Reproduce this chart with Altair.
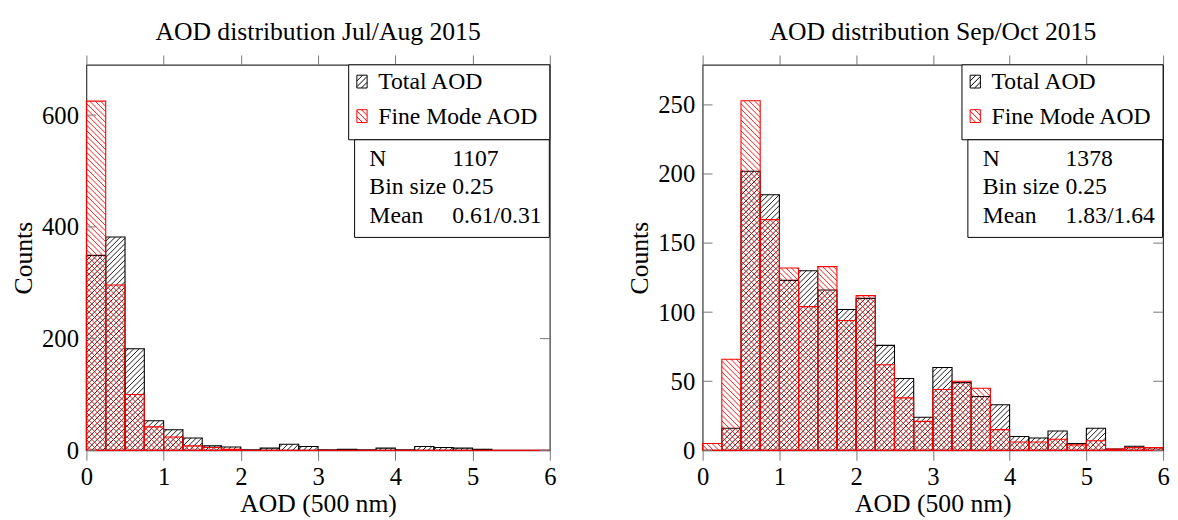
import altair as alt
import pandas as pd

# ---------------- data ----------------
bin_start = [0.0, 0.25, 0.5, 0.75, 1.0, 1.25, 1.5, 1.75, 2.0, 2.25, 2.5, 2.75,
             3.0, 3.25, 3.5, 3.75, 4.0, 4.25, 4.5, 4.75, 5.0, 5.25, 5.5, 5.75]
bin_size = 0.25

jul_total = [349, 382, 182, 53, 37, 22, 8, 6, 1, 4, 11, 7,
             1, 2, 1, 4, 1, 7, 5, 4, 2, 0, 0, 0]
jul_fine = [625, 296, 100, 42, 24, 8, 5, 2, 0, 0, 0, 0,
            0, 0, 0, 0, 0, 0, 0, 0, 0, 0, 0, 0]
sep_total = [0, 16, 202, 185, 123, 130, 116, 102, 110, 76, 52, 24,
             60, 49, 39, 33, 10, 9, 14, 5, 16, 1, 3, 2]
sep_fine = [5, 66, 253, 167, 132, 104, 133, 94, 112, 62, 38, 21,
            44, 50, 45, 15, 6, 6, 8, 4, 7, 1, 2, 2]

series_names = ["Total AOD", "Fine Mode AOD"]
series_colors = ["black", "red"]

panel_titles = ["AOD distribution Jul/Aug 2015", "AOD distribution Sep/Oct 2015"]
stat_labels = ["N", "Bin size", "Mean"]
jul_stats = ["1107", "0.25", "0.61/0.31"]
sep_stats = ["1378", "0.25", "1.83/1.64"]

x_ticks = [0, 1, 2, 3, 4, 5, 6]
jul_yticks = [0, 200, 400, 600]
sep_yticks = [0, 50, 100, 150, 200, 250]
jul_ymax = 690
sep_ymax = 279

FONT = "Liberation Serif"
TICK_COLOR = "#777777"
HATCH = 5.5  # hatch spacing in px

# swatch paths (unit square), "/" for total, "\" for fine
PATH_FWD = ("M-0.8,-1L0.8,-1L0.8,1L-0.8,1Z"
            "M-0.8,-0.1L0.1,-1M-0.8,0.8L0.8,-0.8M-0.1,1L0.8,0.1")
PATH_BWD = ("M-0.8,-1L0.8,-1L0.8,1L-0.8,1Z"
            "M-0.8,-0.8L0.8,0.8M-0.1,-1L0.8,-0.1M-0.8,0.1L0.1,1")


def panel(total, fine, title, stats, yticks, ymax, W, H):
    n = len(bin_start)
    df = pd.DataFrame({
        "start": bin_start + bin_start,
        "end": [b + bin_size for b in bin_start] * 2,
        "count": total + fine,
        "series": [series_names[0]] * n + [series_names[1]] * n,
    })
    sx = W / 6.0
    sy = H / float(ymax)
    d = HATCH
    xsc = alt.Scale(domain=[0, 6], nice=False, zero=False)
    ysc = alt.Scale(domain=[0, ymax], nice=False, zero=False)
    base = alt.Chart(df)

    def hatch(series, color, forward):
        c = (base.transform_filter(alt.datum.series == series)
             .transform_calculate(X0=f"datum.start*{sx}")
             .transform_calculate(X1=f"datum.end*{sx}")
             .transform_calculate(H=f"datum.count*{sy}"))
        if forward:
            c = c.transform_calculate(
                ks=f"sequence(floor((datum.X0-datum.H)/{d}), ceil(datum.X1/{d})+1)")
        else:
            c = c.transform_calculate(
                ks=f"sequence(floor(datum.X0/{d}), ceil((datum.X1+datum.H)/{d})+1)")
        c = c.transform_flatten(["ks"]).transform_calculate(c=f"datum.ks*{d}")
        if forward:
            c = (c.transform_calculate(Xs="max(datum.X0, datum.c)")
                 .transform_calculate(Xe="min(datum.X1, datum.c+datum.H)")
                 .transform_calculate(Ys="datum.Xs-datum.c")
                 .transform_calculate(Ye="datum.Xe-datum.c"))
        else:
            c = (c.transform_calculate(Xs="max(datum.X0, datum.c-datum.H)")
                 .transform_calculate(Xe="min(datum.X1, datum.c)")
                 .transform_calculate(Ys="datum.c-datum.Xs")
                 .transform_calculate(Ye="datum.c-datum.Xe"))
        c = (c.transform_filter("datum.Xe - datum.Xs > 0.05")
             .transform_calculate(xs=f"datum.Xs/{sx}")
             .transform_calculate(xe=f"datum.Xe/{sx}")
             .transform_calculate(ys=f"datum.Ys/{sy}")
             .transform_calculate(ye=f"datum.Ye/{sy}"))
        return c.mark_rule(color=color, strokeWidth=0.9).encode(
            x=alt.X("xs:Q", scale=xsc, axis=None),
            x2="xe:Q",
            y=alt.Y("ys:Q", scale=ysc, axis=None),
            y2="ye:Q",
        )

    bottom_axis = alt.Axis(values=x_ticks, orient="bottom", title="AOD (500 nm)",
                           tickSize=10, grid=False, domain=False, labelFlush=False,
                           labelPadding=4.5, titlePadding=2, format="d")
    top_axis = alt.Axis(values=x_ticks, orient="top", title=None, labels=False,
                        tickSize=10, grid=False, domain=False)
    left_axis = alt.Axis(values=yticks, orient="left", title="Counts", ticks=False,
                         grid=False, domain=False, labelFlush=False,
                         labelPadding=8, titlePadding=5)

    def outline(series, color, xaxis, yaxis):
        return (base.transform_filter(alt.datum.series == series)
                .transform_calculate(zero="0")
                .mark_rect(fill="transparent", stroke=color, strokeWidth=1.1)
                .encode(
                    x=alt.X("start:Q", scale=xsc, axis=xaxis),
                    x2="end:Q",
                    y=alt.Y("count:Q", scale=ysc, axis=yaxis),
                    y2="zero:Q",
                ))

    total_hatch = hatch(series_names[0], series_colors[0], True)
    total_out = outline(series_names[0], series_colors[0], bottom_axis, left_axis)
    fine_hatch = hatch(series_names[1], series_colors[1], False)
    fine_out = outline(series_names[1], series_colors[1], top_axis, None)

    tick_df = pd.DataFrame({"v": yticks})
    ytick_left = alt.Chart(tick_df).mark_rule(color=TICK_COLOR, strokeWidth=1).encode(
        y=alt.Y("v:Q", scale=ysc, axis=None), x=alt.value(0), x2=alt.value(10))
    ytick_right = alt.Chart(tick_df).mark_rule(color=TICK_COLOR, strokeWidth=1).encode(
        y=alt.Y("v:Q", scale=ysc, axis=None), x=alt.value(W - 10), x2=alt.value(W))

    one = pd.DataFrame({"k": [0]})
    leg_frame = alt.Chart(one).mark_rect(fill="white", stroke="black", strokeWidth=1).encode(
        x=alt.value(W - 204), x2=alt.value(W), y=alt.value(0), y2=alt.value(76))
    stat_frame = alt.Chart(one).mark_rect(fill="white", stroke="black", strokeWidth=1).encode(
        x=alt.value(W - 198), x2=alt.value(W - 0.5), y=alt.value(76), y2=alt.value(175))
    sw1 = alt.Chart(one).mark_point(shape=PATH_FWD, size=169, filled=False,
                                    stroke=series_colors[0], strokeWidth=1, opacity=1).encode(
        x=alt.value(W - 190.5), y=alt.value(17))
    sw2 = alt.Chart(one).mark_point(shape=PATH_BWD, size=169, filled=False,
                                    stroke=series_colors[1], strokeWidth=1, opacity=1).encode(
        x=alt.value(W - 190.5), y=alt.value(52))
    leg_text = alt.Chart(one).mark_text(align="left", baseline="alphabetic", font=FONT,
                                        fontSize=24, lineHeight=36, color="black").encode(
        x=alt.value(W - 174), y=alt.value(24), text=alt.value(series_names))
    stat_lab = alt.Chart(one).mark_text(align="left", baseline="alphabetic", font=FONT,
                                        fontSize=24, lineHeight=28.5, color="black").encode(
        x=alt.value(W - 183), y=alt.value(103), text=alt.value(stat_labels))
    stat_val = alt.Chart(one).mark_text(align="left", baseline="alphabetic", font=FONT,
                                        fontSize=24, lineHeight=28.5, color="black").encode(
        x=alt.value(W - 99), y=alt.value(103), text=alt.value(stats))

    return alt.layer(
        total_hatch, total_out, fine_hatch, fine_out, ytick_left, ytick_right,
        leg_frame, stat_frame, sw1, sw2, leg_text, stat_lab, stat_val
    ).resolve_axis(x="independent", y="independent").properties(
        width=W, height=H,
        title=alt.TitleParams(title, font=FONT, fontSize=26, fontWeight="normal",
                              color="black", anchor="middle", offset=10),
    )


left = panel(jul_total, jul_fine, panel_titles[0], jul_stats, jul_yticks, jul_ymax, 470, 391)
right = panel(sep_total, sep_fine, panel_titles[1], sep_stats, sep_yticks, sep_ymax, 467, 391)

chart = (alt.hconcat(left, right, spacing=70)
         .resolve_scale(x="independent", y="independent")
         .properties(padding={"left": 1.5, "top": 6, "right": 0, "bottom": 0})
         .configure_view(stroke="#333333", strokeWidth=1.2)
         .configure_axis(labelFont=FONT, labelFontSize=25, labelColor="black",
                         titleFont=FONT, titleFontSize=26, titleFontWeight="normal",
                         titleColor="black", tickColor=TICK_COLOR, tickWidth=1))

chart.save("out.html", embed_options={"renderer": "svg", "actions": False})
